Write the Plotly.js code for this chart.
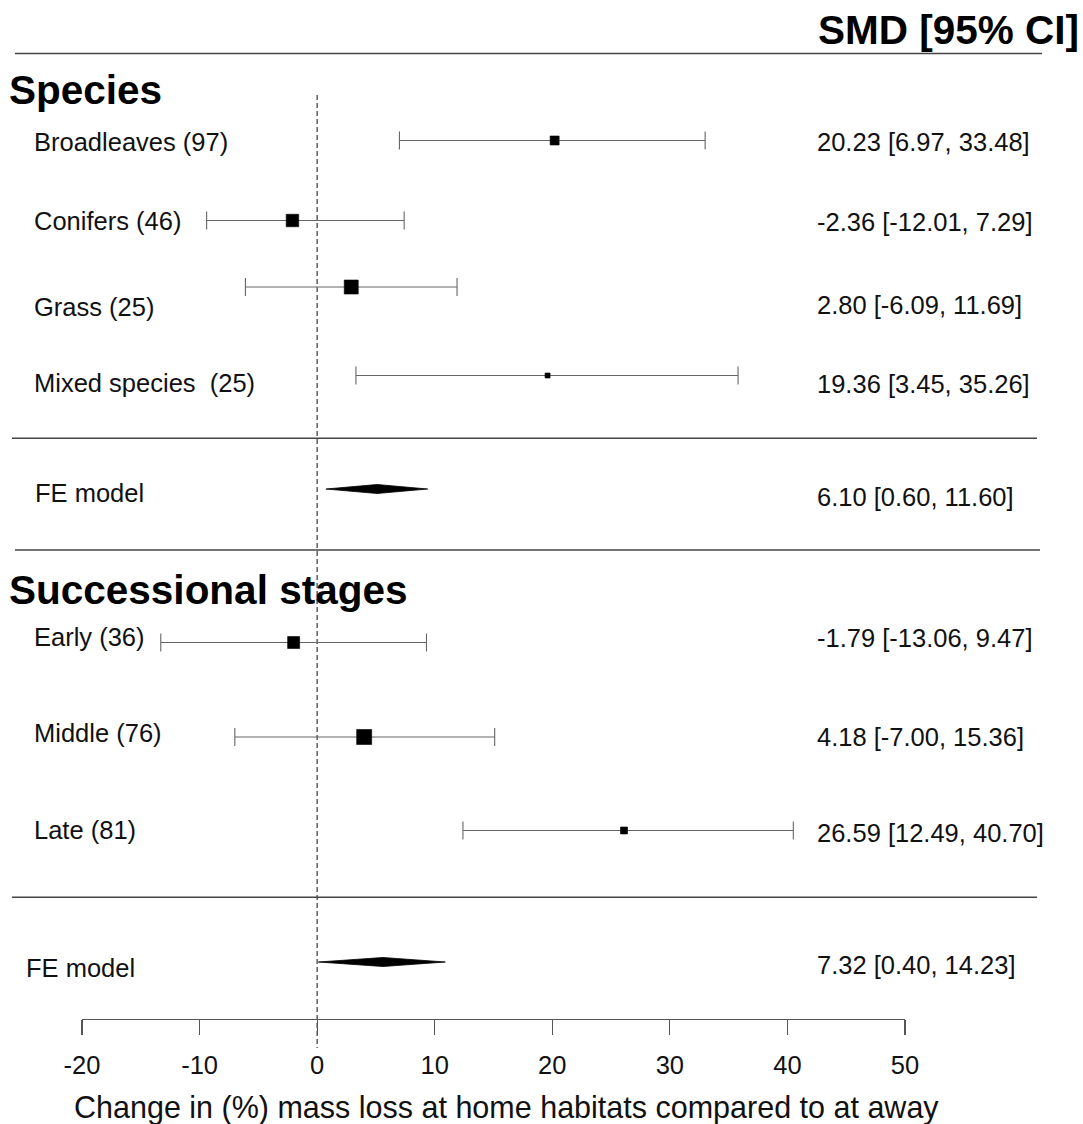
<!DOCTYPE html>
<html>
<head>
<meta charset="utf-8">
<script src="https://cdn.plot.ly/plotly-3.0.1.min.js"></script>
<style>html,body{margin:0;padding:0;background:#fff;}#chart{width:1083px;height:1124px;}</style>
</head>
<body>
<div id="chart"></div>
<script>
// ---- data ----
const sections = ["Species", "Successional stages"];
const categories = ["Broadleaves (97)", "Conifers (46)", "Grass (25)", "Mixed species\u00a0 (25)", "Early (36)", "Middle (76)", "Late (81)"];
const estimate = [20.2, -2.1, 2.9, 19.6, -2.0, 4.0, 26.1];
const lower    = [7.0, -9.4, -6.1, 3.3, -13.3, -7.0, 12.4];
const upper    = [33.0, 7.4, 11.9, 35.8, 9.3, 15.1, 40.5];
const ciText   = ["20.23 [6.97, 33.48]", "-2.36 [-12.01, 7.29]", "2.80 [-6.09, 11.69]", "19.36 [3.45, 35.26]",
                  "-1.79 [-13.06, 9.47]", "4.18 [-7.00, 15.36]", "26.59 [12.49, 40.70]"];
const feLabel  = ["FE model", "FE model"];
const feEst    = [5.1, 5.6];
const feLower  = [0.75, 0.1];
const feUpper  = [9.4, 10.9];
const feText   = ["6.10 [0.60, 11.60]", "7.32 [0.40, 14.23]"];
const tickVals   = [-20, -10, 0, 10, 20, 30, 40, 50];
const tickLabels = ["-20", "-10", "0", "10", "20", "30", "40", "50"];
const xTitle = "Change in (%) mass loss at home habitats compared to at away";
const colHeader = "SMD [95% CI]";

// ---- layout configuration (row positions in plot units, styles) ----
const W = 1083, H = 1124, PLOT_H = 1050;
const studyRow = [140.5, 220.5, 287, 375.5, 642.5, 737, 830.5];
const studyLabelRow = [142, 221, 307, 383, 637, 733, 830];
const studyTextRow = [142, 222, 305, 384, 638, 737, 833];
const markerSize = [9, 12.5, 14, 5, 12, 15, 7];
const feRow = [489, 962];
const feLabelRow = [493, 968];
const feTextRow = [497, 965];
const feLabelX = [35, 26];
const sectionRow = [90, 590];
const separators = [[15, 1042, 53.5], [12, 1037, 438.3], [15, 1040, 550], [12, 1037, 897.3]];
const FONT = "Liberation Sans, Arial, Helvetica, sans-serif";
const FS = 25.5;
const HFS = 40.5;
const px = v => v / W;

const traces = [];
// confidence intervals (error bars only)
traces.push({
  type: "scatter", mode: "markers",
  x: estimate, y: studyRow,
  marker: {symbol: "square", size: 4, opacity: 0},
  error_x: {type: "data", symmetric: false,
    array: estimate.map((e, i) => upper[i] - e),
    arrayminus: estimate.map((e, i) => e - lower[i]),
    width: 9, thickness: 1.1, color: "#666"},
  hoverinfo: "skip", showlegend: false
});
// point estimates
traces.push({
  type: "scatter", mode: "markers",
  x: estimate, y: studyRow,
  marker: {symbol: "square", size: markerSize, color: "#000", opacity: 1, line: {width: 0.6, color: "#000"}},
  hoverinfo: "skip", showlegend: false, cliponaxis: false
});
// FE model diamonds
const hDia = 4.5;
feEst.forEach((e, i) => {
  const r = feRow[i];
  traces.push({
    type: "scatter", mode: "lines",
    x: [feLower[i], e, feUpper[i], e, feLower[i]],
    y: [r, r - hDia, r, r + hDia, r],
    fill: "toself", fillcolor: "#000",
    line: {color: "#000", width: 0.8},
    hoverinfo: "skip", showlegend: false
  });
});

const annotations = [];
const ann = (text, x, y, opts) => Object.assign({
  text, x: px(x), y, xref: "paper", yref: "y", showarrow: false,
  xanchor: "left", yanchor: "middle", borderpad: 0, borderwidth: 0,
  font: {family: FONT, size: FS, color: "#111"}
}, opts || {});

annotations.push(ann(colHeader, 1079, 30, {xanchor: "right", font: {family: FONT, size: HFS, color: "#000", weight: "bold"}}));
sections.forEach((s, i) => annotations.push(ann(s, 9, sectionRow[i], {font: {family: FONT, size: HFS, color: "#000", weight: "bold"}})));
categories.forEach((c, i) => annotations.push(ann(c, 34, studyLabelRow[i])));
ciText.forEach((t, i) => annotations.push(ann(t, 817, studyTextRow[i])));
feLabel.forEach((t, i) => annotations.push(ann(t, feLabelX[i], feLabelRow[i])));
feText.forEach((t, i) => annotations.push(ann(t, 817, feTextRow[i])));
// x-axis title (placed as paper annotation to match the reference's offset)
annotations.push(ann(xTitle, 506, 1 - 1107 / PLOT_H, {xanchor: "center", yref: "paper", font: {family: FONT, size: 30.5, color: "#111"}}));

const shapes = separators.map(s => ({
  type: "line", xref: "paper", yref: "y",
  x0: px(s[0]), x1: px(s[1]), y0: s[2], y1: s[2],
  line: {color: "#444", width: 1.5}
}));
// reference line at zero
shapes.push({type: "line", xref: "x", yref: "y", x0: 0, x1: 0, y0: 95, y1: 1048,
  line: {color: "#444", width: 1.3, dash: "5px,3px"}, layer: "below"});

const layout = {
  width: W, height: H,
  margin: {l: 0, r: 0, t: 0, b: H - PLOT_H, pad: 0},
  paper_bgcolor: "#fff", plot_bgcolor: "rgba(0,0,0,0)",
  showlegend: false,
  xaxis: {
    domain: [82 / W, 905 / W], range: [-20, 50],
    anchor: "free", position: 1 - 1018.5 / PLOT_H,
    showgrid: false, zeroline: false,
    showline: true, linecolor: "#555", linewidth: 1.2,
    ticks: "outside", ticklen: 15, tickwidth: 1.2, tickcolor: "#555",
    tickvals: tickVals, ticktext: tickLabels,
    tickfont: {family: FONT, size: FS, color: "#111"},
    ticklabelstandoff: 9,
    fixedrange: true
  },
  yaxis: {range: [PLOT_H, 0], visible: false, fixedrange: true, showgrid: false, zeroline: false},
  annotations, shapes
};

Plotly.newPlot("chart", traces, layout, {staticPlot: true, displayModeBar: false});
</script>
</body>
</html>
